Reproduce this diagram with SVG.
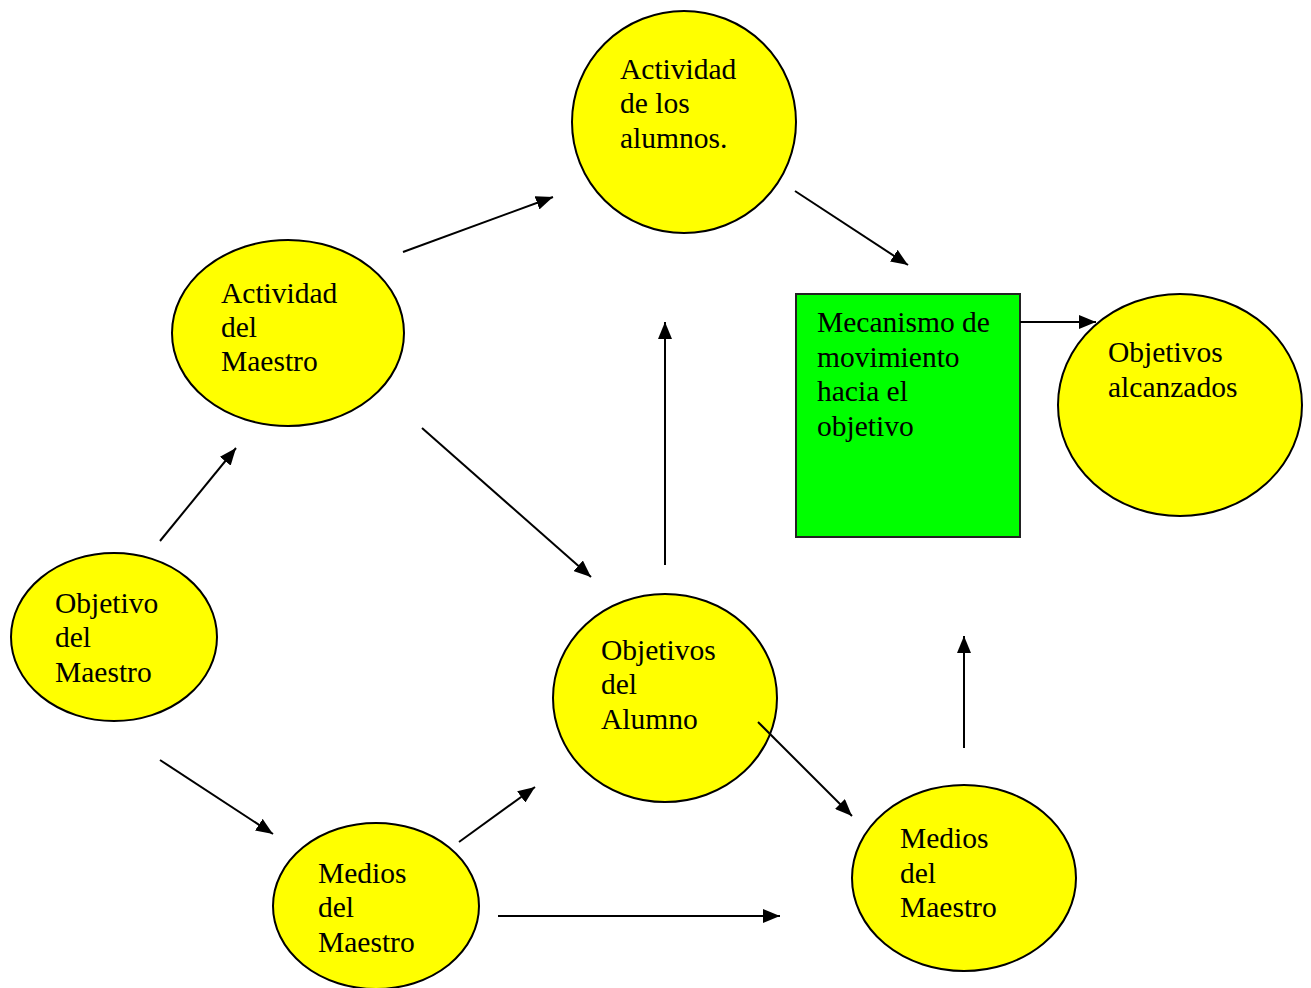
<svg xmlns="http://www.w3.org/2000/svg" width="1311" height="988" viewBox="0 0 1311 988">
<defs>
<marker id="ah" markerWidth="8.5" markerHeight="7" refX="8.5" refY="3.5" orient="auto" markerUnits="strokeWidth">
<path d="M0,0 L8.5,3.5 L0,7 Z" fill="#000"/>
</marker>
<style>
.n{fill:#ffff00;stroke:#000;stroke-width:2}
.r{fill:#00ff00;stroke:#222;stroke-width:2}
.t{font-family:"Liberation Serif","Times New Roman",serif;font-size:29.5px;fill:#000}
.c line{stroke:#000;stroke-width:2;marker-end:url(#ah)}
</style>
</defs>
<rect width="1311" height="988" fill="#fff"/>
<g id="n-actividad-alumnos"><ellipse class="n" cx="684" cy="122" rx="112" ry="111"/>
<text class="t" x="620" y="79">Actividad</text><text class="t" x="620" y="113">de los</text><text class="t" x="620" y="148">alumnos.</text></g>
<g id="n-actividad-maestro"><ellipse class="n" cx="288" cy="333" rx="116" ry="93"/>
<text class="t" x="221" y="303">Actividad</text><text class="t" x="221" y="337">del</text><text class="t" x="221" y="371">Maestro</text></g>
<g id="n-objetivo-maestro"><ellipse class="n" cx="114" cy="637" rx="103" ry="84"/>
<text class="t" x="55" y="613">Objetivo</text><text class="t" x="55" y="647">del</text><text class="t" x="55" y="682">Maestro</text></g>
<g id="n-objetivos-alumno"><ellipse class="n" cx="665" cy="698" rx="112" ry="104"/>
<text class="t" x="601" y="660">Objetivos</text><text class="t" x="601" y="694">del</text><text class="t" x="601" y="729">Alumno</text></g>
<g id="n-medios-maestro-1"><ellipse class="n" cx="376" cy="906" rx="103" ry="83"/>
<text class="t" x="318" y="883">Medios</text><text class="t" x="318" y="917">del</text><text class="t" x="318" y="952">Maestro</text></g>
<g id="n-medios-maestro-2"><ellipse class="n" cx="964" cy="878" rx="112" ry="93"/>
<text class="t" x="900" y="848">Medios</text><text class="t" x="900" y="883">del</text><text class="t" x="900" y="917">Maestro</text></g>
<g id="n-objetivos-alcanzados"><ellipse class="n" cx="1180" cy="405" rx="122" ry="111"/>
<text class="t" x="1108" y="362">Objetivos</text><text class="t" x="1108" y="397">alcanzados</text></g>
<g id="n-mecanismo"><rect class="r" x="796" y="294" width="224" height="243"/>
<text class="t" x="817" y="332">Mecanismo de</text><text class="t" x="817" y="367">movimiento</text><text class="t" x="817" y="401">hacia el</text><text class="t" x="817" y="436">objetivo</text></g>
<g id="connectors" class="c">
<line x1="403" y1="252" x2="553" y2="197"/>
<line x1="795" y1="191" x2="908" y2="265"/>
<line x1="1020" y1="322" x2="1096" y2="322"/>
<line x1="160" y1="541" x2="236" y2="448"/>
<line x1="422" y1="428" x2="591" y2="577"/>
<line x1="665" y1="565" x2="665" y2="322"/>
<line x1="160" y1="760" x2="273" y2="834"/>
<line x1="459" y1="842" x2="535" y2="787"/>
<line x1="758" y1="722" x2="852" y2="816"/>
<line x1="498" y1="916" x2="780" y2="916"/>
<line x1="964" y1="748" x2="964" y2="636"/>
</g>
</svg>
